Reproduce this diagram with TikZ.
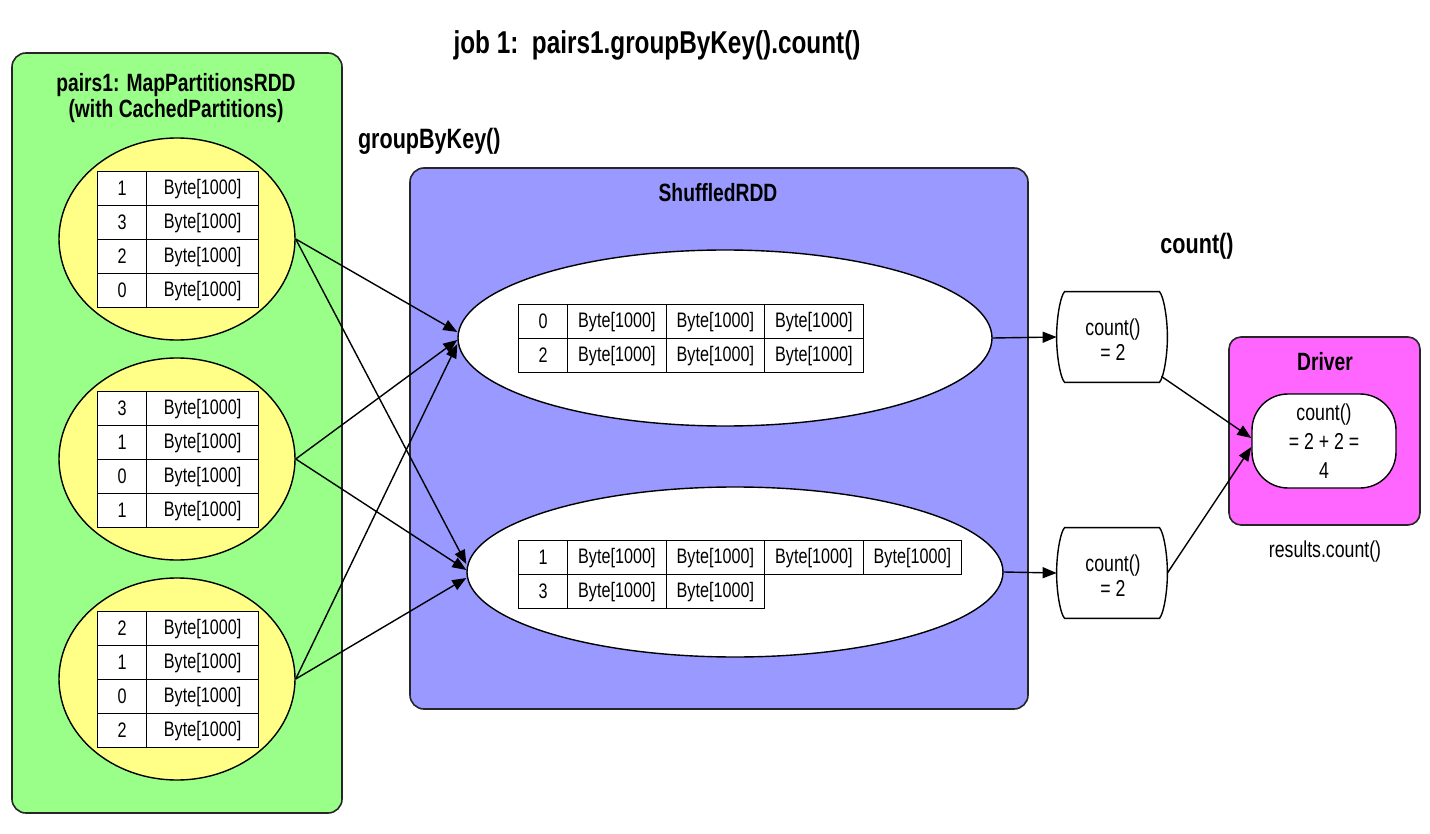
\documentclass[tikz,border=0pt]{standalone}
\usepackage{fontspec}
\setmainfont{Liberation Sans}[FakeStretch=0.77]
\usetikzlibrary{shapes.geometric,arrows.meta}
\definecolor{gfill}{RGB}{153,255,136}
\definecolor{yfill}{RGB}{255,255,136}
\definecolor{bfill}{RGB}{153,153,255}
\definecolor{mfill}{RGB}{255,102,255}
\tikzset{
  box/.style={draw=black!85, line width=0.8pt, rounded corners=7pt, inner sep=0pt},
  cell/.style={draw, fill=white, line width=0.6pt, minimum height=17pt, inner sep=0pt,
    font=\fontsize{10.5}{12}\selectfont, anchor=north west},
  yel/.style={ellipse, draw, fill=yfill, line width=0.7pt, minimum width=118pt,
    minimum height=101pt, inner sep=0pt},
  shuf/.style={ellipse, draw, fill=white, line width=0.7pt, inner sep=0pt},
  arr/.style={-{Triangle[length=7pt,width=5.5pt]}, line width=0.7pt},
  ttl/.style={font=\fontsize{12.5}{15}\selectfont\bfseries, align=center},
  big/.style={font=\fontsize{14}{16}\selectfont\bfseries},
  txt/.style={font=\fontsize{11.5}{12.5}\selectfont, align=center},
  cnt/.style={draw, fill=white, line width=0.7pt},
}
\begin{document}
\begin{tikzpicture}[x=0.5pt,y=-0.5pt]
\useasboundingbox (0,0) rectangle (1430,834);
% title
\node[font=\fontsize{15.8}{18}\selectfont\bfseries] (title) at (657,45) {job 1:\ \ pairs1.groupByKey().count()};
% green box
\node[box, fill=gfill, minimum width=165pt, minimum height=380pt] (green) at (177,433) {};
\node[ttl, font=\fontsize{12.5}{13}\selectfont\bfseries] (gtitle) at (176,98) {pairs1: MapPartitionsRDD\\(with CachedPartitions)};
% blue box
\node[box, fill=bfill, minimum width=309pt, minimum height=270.5pt] (blue) at (719,438.5) {};
\node[ttl] (btitle) at (718,193) {ShuffledRDD};
\node[big, anchor=west] (gbk) at (351,141) {groupByKey()};
\node[big] (cntlbl) at (1197,246) {count()};
% magenta box
\node[box, fill=mfill, rounded corners=6pt, minimum width=95.5pt, minimum height=94pt] (drv) at (1324.5,431) {};
\node[ttl] (dtitle) at (1325,362) {Driver};
\node[txt] (res) at (1325,552) {results.count()};
% yellow ellipses with tables
\foreach \t/\cy/\keys in {1/239/{1,3,2,0}, 2/459/{3,1,0,1}, 3/679/{2,1,0,2}} {
  \node[yel] (y\t) at (177,\cy) {};
  \foreach \k [count=\i] in \keys {
    \node[cell, minimum width=24.5pt] (t\t k\i) at (97,{\cy-68+34*(\i-1)}) {\k};
    \node[cell, minimum width=56pt] (t\t v\i) at (146,{\cy-68+34*(\i-1)}) {Byte[1000]};
  }
}
% shuffled ellipses
\node[shuf, minimum width=267pt, minimum height=88pt] (s1) at (725,338) {};
\node[shuf, minimum width=268pt, minimum height=85pt] (s2) at (735,572) {};
% s1 table
\node[cell, minimum width=24.5pt] (a0) at (518,304) {0};
\node[cell, minimum width=24.5pt] (b0) at (518,338) {2};
\foreach \j in {1,2,3} {
  \node[cell, minimum width=49.25pt] (a\j) at ({567+98.5*(\j-1)},304) {Byte[1000]};
  \node[cell, minimum width=49.25pt] (b\j) at ({567+98.5*(\j-1)},338) {Byte[1000]};
}
% s2 table
\node[cell, minimum width=24.5pt] (c0) at (518,540) {1};
\node[cell, minimum width=24.5pt] (d0) at (518,574) {3};
\foreach \j in {1,2,3,4} {
  \node[cell, minimum width=49.25pt] (c\j) at ({567+98.5*(\j-1)},540) {Byte[1000]};
}
\foreach \j in {1,2} {
  \node[cell, minimum width=49.25pt] (d\j) at ({567+98.5*(\j-1)},574) {Byte[1000]};
}
% count nodes
\foreach \n/\cy in {1/337, 2/573} {
  \node[minimum width=55pt, minimum height=45pt, inner sep=0pt] (c\n n) at (1112,\cy) {};
  \draw[cnt] ([xshift=4pt]c\n n.north west) -- ([xshift=-4pt]c\n n.north east)
    .. controls ([xshift=-2pt,yshift=-2pt]c\n n.north east) and ([yshift=10pt]c\n n.east) .. (c\n n.east)
    .. controls ([yshift=-10pt]c\n n.east) and ([xshift=-2pt,yshift=2pt]c\n n.south east) .. ([xshift=-4pt]c\n n.south east)
    -- ([xshift=4pt]c\n n.south west)
    .. controls ([xshift=2pt,yshift=2pt]c\n n.south west) and ([yshift=-10pt]c\n n.west) .. (c\n n.west)
    .. controls ([yshift=10pt]c\n n.west) and ([xshift=2pt,yshift=-2pt]c\n n.north west) .. cycle;
  \node[txt] (c\n t) at (1113,{\cy+3}) {count()\\= 2};
}
% driver inner node
\node[draw, fill=white, line width=0.7pt, rounded corners=18pt, minimum width=72pt, minimum height=47pt,
  txt, font=\fontsize{11.5}{14.5}\selectfont] (dd) at (1324,441) {count()\\= 2 + 2 =\\4};
% arrows
\draw[arr] (y1.east) -- ([yshift=3pt]s1.west);
\draw[arr] (y2.east) -- ([yshift=-1pt]s1.west);
\draw[arr] (y3.east) -- ([yshift=-3pt]s1.west);
\draw[arr] (y1.east) -- ([yshift=4pt]s2.west);
\draw[arr] (y2.east) -- ([yshift=1pt]s2.west);
\draw[arr] (y3.east) -- ([yshift=-3pt]s2.west);
\draw[arr] (s1.east) -- (c1n.west);
\draw[arr] (s2.east) -- (c2n.west);
\draw[arr] ([xshift=-3pt,yshift=3pt]c1n.south east) -- ([yshift=1.5pt]dd.west);
\draw[arr] (c2n.east) -- ([yshift=-3pt]dd.west);
\end{tikzpicture}
\end{document}
